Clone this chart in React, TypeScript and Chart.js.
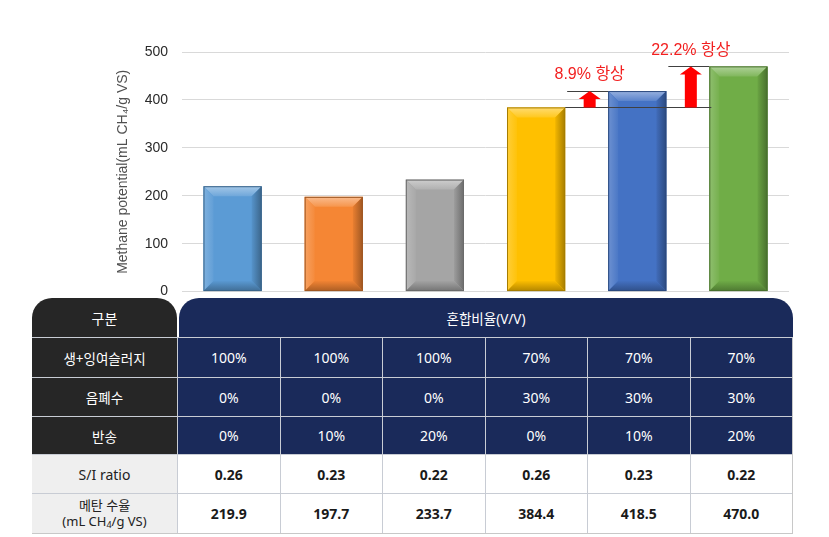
import React, { useEffect, useRef } from "react";
import { Chart, registerables } from "chart.js";

Chart.register(...registerables);

// ---- data ----
const categories = ["100/0/0", "100/0/10", "100/0/20", "70/30/0", "70/30/10", "70/30/20"];
const methaneYield = [219.9, 197.7, 233.7, 384.4, 418.5, 470.0];
const barColors = ["#5B9BD5", "#F58634", "#A5A5A5", "#FFC000", "#4472C4", "#70AD47"];
const yTickMax = 500;
const yTickStep = 100;
const yTitle = "Methane potential(mL CH\u2084/g VS)";
const improvedIndex = [4, 5];
const improveLabels = ["8.9% 항상", "22.2% 항상"];

const rowLabels = ["생+잉여슬러지", "음폐수", "반송"];
const sludgeRow = ["100%", "100%", "100%", "70%", "70%", "70%"];
const wastewaterRow = ["0%", "0%", "0%", "30%", "30%", "30%"];
const returnRow = ["0%", "10%", "20%", "0%", "10%", "20%"];
const siRatio = ["0.26", "0.23", "0.22", "0.26", "0.23", "0.22"];

const NAVY = "#1a2a5a";
const BLACK = "#262626";

function shade(hex: string, amt: number) {
  const n = parseInt(hex.slice(1), 16);
  let r = (n >> 16) & 255, g = (n >> 8) & 255, b = n & 255;
  const t = amt < 0 ? 0 : 255;
  const p = Math.abs(amt);
  r = Math.round(r + (t - r) * p);
  g = Math.round(g + (t - g) * p);
  b = Math.round(b + (t - b) * p);
  return `rgb(${r},${g},${b})`;
}

const bevelPlugin = {
  id: "bevel",
  afterDatasetsDraw(chart: any) {
    const ctx = chart.ctx;
    const meta = chart.getDatasetMeta(0);
    meta.data.forEach((bar: any, i: number) => {
      const { x, y, base, width } = bar.getProps(["x", "y", "base", "width"], true);
      const c = barColors[i];
      const L = x - width / 2, R = x + width / 2, T = y, B = base;
      const s = 10;
      ctx.save();
      let g = ctx.createLinearGradient(0, T, 0, T + s);
      g.addColorStop(0, shade(c, 0.45));
      g.addColorStop(1, shade(c, 0.12));
      ctx.fillStyle = g;
      ctx.beginPath();
      ctx.moveTo(L, T); ctx.lineTo(R, T); ctx.lineTo(R - s, T + s); ctx.lineTo(L + s, T + s); ctx.closePath();
      ctx.fill();
      g = ctx.createLinearGradient(L, 0, L + s, 0);
      g.addColorStop(0, shade(c, 0.22));
      g.addColorStop(1, shade(c, 0.04));
      ctx.fillStyle = g;
      ctx.beginPath();
      ctx.moveTo(L, T); ctx.lineTo(L + s, T + s); ctx.lineTo(L + s, B - s); ctx.lineTo(L, B); ctx.closePath();
      ctx.fill();
      g = ctx.createLinearGradient(R, 0, R - s, 0);
      g.addColorStop(0, shade(c, -0.35));
      g.addColorStop(1, shade(c, -0.05));
      ctx.fillStyle = g;
      ctx.beginPath();
      ctx.moveTo(R, T); ctx.lineTo(R, B); ctx.lineTo(R - s, B - s); ctx.lineTo(R - s, T + s); ctx.closePath();
      ctx.fill();
      g = ctx.createLinearGradient(0, B, 0, B - s);
      g.addColorStop(0, shade(c, -0.3));
      g.addColorStop(1, shade(c, -0.02));
      ctx.fillStyle = g;
      ctx.beginPath();
      ctx.moveTo(L, B); ctx.lineTo(R, B); ctx.lineTo(R - s, B - s); ctx.lineTo(L + s, B - s); ctx.closePath();
      ctx.fill();
      ctx.strokeStyle = shade(c, -0.35);
      ctx.lineWidth = 1;
      ctx.strokeRect(L + 0.5, T + 0.5, width - 1, B - T - 1);
      ctx.restore();
    });
  },
};

function drawArrow(ctx: CanvasRenderingContext2D, x: number, yB: number, yT: number) {
  const sw = 6, hw = 11, hh = 8;
  ctx.beginPath();
  ctx.moveTo(x - sw, yB);
  ctx.lineTo(x - sw, yT + hh);
  ctx.lineTo(x - hw, yT + hh);
  ctx.lineTo(x, yT);
  ctx.lineTo(x + hw, yT + hh);
  ctx.lineTo(x + sw, yT + hh);
  ctx.lineTo(x + sw, yB);
  ctx.closePath();
  ctx.fill();
}

const annotationPlugin = {
  id: "improve",
  afterDraw(chart: any) {
    const ctx = chart.ctx;
    const ys = chart.scales.y;
    const bars = chart.getDatasetMeta(0).data.map((b: any) => b.getProps(["x", "width"], true));
    const left = (i: number) => bars[i].x - bars[i].width / 2;
    const right = (i: number) => bars[i].x + bars[i].width / 2;
    const yRef = ys.getPixelForValue(methaneYield[3]);
    ctx.save();
    ctx.strokeStyle = "#404040";
    ctx.lineWidth = 1;
    const hline = (x1: number, x2: number, y: number) => {
      ctx.beginPath();
      ctx.moveTo(x1, Math.round(y) + 0.5);
      ctx.lineTo(x2, Math.round(y) + 0.5);
      ctx.stroke();
    };
    hline(right(3), left(5) + 2, yRef);
    improvedIndex.forEach((i, k) => {
      const yT = ys.getPixelForValue(methaneYield[i]);
      hline(right(i - 1) + 2, left(i), yT);
      const ax = (right(i - 1) + left(i)) / 2 + 3;
      ctx.fillStyle = "#FF0000";
      drawArrow(ctx, ax, yRef, yT);
      ctx.font = "16px 'Liberation Sans', 'Noto Sans CJK KR', sans-serif";
      ctx.fillStyle = "#F21F1F";
      ctx.textAlign = "center";
      ctx.textBaseline = "middle";
      ctx.fillText(improveLabels[k], ax, yT - 16);
    });
    ctx.restore();
  },
};

const cellBase: React.CSSProperties = {
  display: "flex",
  alignItems: "center",
  justifyContent: "center",
  textAlign: "center",
};

export default function App() {
  const ref = useRef<HTMLCanvasElement>(null);
  useEffect(() => {
    const chart = new Chart(ref.current!, {
      type: "bar",
      data: {
        labels: categories,
        datasets: [
          {
            data: methaneYield,
            backgroundColor: barColors,
            borderWidth: 0,
            categoryPercentage: 1,
            barPercentage: 0.575,
          },
        ],
      },
      options: {
        responsive: false,
        animation: false,
        events: [],
        layout: { padding: { top: 52, right: 40, bottom: 7, left: 115 } },
        plugins: { legend: { display: false }, tooltip: { enabled: false } },
        scales: {
          x: { display: false },
          y: {
            min: 0,
            max: yTickMax,
            ticks: {
              stepSize: yTickStep,
              padding: 14,
              color: "#2a2a2a",
              font: { family: "'Liberation Sans', Arial, sans-serif", size: 14 },
            },
            grid: { color: "#d9d9d9", drawTicks: false },
            border: { display: false },
            title: {
              display: true,
              text: yTitle,
              color: "#505050",
              padding: { top: 0, bottom: 0 },
              font: { family: "'Liberation Sans', 'DejaVu Sans', sans-serif", size: 14 },
            },
            afterFit: (s: any) => { s.width = 67; },
          },
        },
      },
      plugins: [bevelPlugin, annotationPlugin],
    } as any);
    return () => chart.destroy();
  }, []);

  const font = "'Noto Sans', 'Noto Sans CJK KR', sans-serif";
  const dataRows = [sludgeRow, wastewaterRow, returnRow];
  const rowHeights = [39, 38, 37, 38, 39];

  const cells: React.ReactNode[] = [];
  dataRows.forEach((row, r) => {
    cells.push(
      <div key={`l${r}`} style={{ ...cellBase, background: BLACK, color: "#fff", fontSize: 13.5 }}>
        {rowLabels[r]}
      </div>
    );
    row.forEach((v, c) =>
      cells.push(
        <div key={`d${r}-${c}`} style={{ ...cellBase, background: NAVY, color: "#fff", fontSize: 14 }}>
          {v}
        </div>
      )
    );
  });
  cells.push(
    <div key="lsi" style={{ ...cellBase, background: "#efefef", color: "#222", fontSize: 14 }}>
      S/I ratio
    </div>
  );
  siRatio.forEach((v, c) =>
    cells.push(
      <div key={`si${c}`} style={{ ...cellBase, background: "#fff", color: "#1a1a1a", fontSize: 14, fontWeight: 700 }}>
        {v}
      </div>
    )
  );
  cells.push(
    <div key="lmy" style={{ ...cellBase, background: "#efefef", color: "#222", fontSize: 13, lineHeight: "16px", flexDirection: "column" }}>
      <span>메탄 수율</span>
      <span>
        (mL CH<sub style={{ fontSize: 9, verticalAlign: "baseline", position: "relative", top: 2 }}>4</sub>/g VS)
      </span>
    </div>
  );
  methaneYield.forEach((v, c) =>
    cells.push(
      <div key={`my${c}`} style={{ ...cellBase, background: "#fff", color: "#1a1a1a", fontSize: 14, fontWeight: 700 }}>
        {v.toFixed(1)}
      </div>
    )
  );

  return (
    <div style={{ position: "absolute", left: 0, top: 0, width: 829, height: 537, background: "#fff", overflow: "hidden", fontFamily: font }}>
      <canvas ref={ref} width={829} height={314} style={{ position: "absolute", left: 0, top: 0, display: "block" }} />
      <div style={{ position: "absolute", left: 32, top: 298, width: 761, background: "#fff" }}>
        <div style={{ display: "flex", height: 39 }}>
          <div style={{ ...cellBase, width: 145, background: BLACK, color: "#fff", fontSize: 14, borderRadius: "20px 20px 0 0" }}>구분</div>
          <div style={{ width: 2 }} />
          <div style={{ ...cellBase, flex: 1, background: NAVY, color: "#fff", fontSize: 13.5, borderRadius: "20px 20px 0 0" }}>
            혼합비율(V/V)
          </div>
        </div>
        <div
          style={{
            display: "grid",
            gridTemplateColumns: "145px repeat(6, 1fr)",
            gridTemplateRows: rowHeights.map((h) => h + "px").join(" "),
            gap: 1,
            background: "#c8ccd4",
            borderTop: "1px solid #c8ccd4",
            borderBottom: "1px solid #c8c8c8",
            borderRight: "1px solid #c8c8c8",
          }}
        >
          {cells}
        </div>
      </div>
    </div>
  );
}
